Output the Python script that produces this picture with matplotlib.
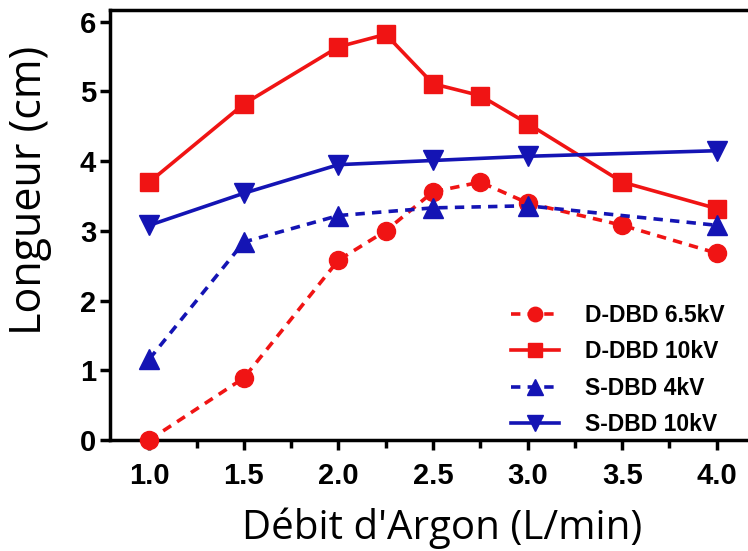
import matplotlib
matplotlib.use("Agg")
import matplotlib.pyplot as plt
from matplotlib.ticker import MultipleLocator

# Data
x_d65 = [1.0, 1.5, 2.0, 2.25, 2.5, 2.75, 3.0, 3.5, 4.0]
y_d65 = [0.0, 0.89, 2.58, 3.0, 3.56, 3.70, 3.40, 3.08, 2.68]
x_d10 = [1.0, 1.5, 2.0, 2.25, 2.5, 2.75, 3.0, 3.5, 4.0]
y_d10 = [3.70, 4.82, 5.64, 5.82, 5.11, 4.94, 4.54, 3.70, 3.32]
x_s4 = [1.0, 1.5, 2.0, 2.5, 3.0, 4.0]
y_s4 = [1.16, 2.84, 3.22, 3.33, 3.36, 3.08]
x_s10 = [1.0, 1.5, 2.0, 2.5, 3.0, 4.0]
y_s10 = [3.08, 3.54, 3.95, 4.01, 4.07, 4.15]
labels = ["D-DBD 6.5kV", "D-DBD 10kV", "S-DBD 4kV", "S-DBD 10kV"]
xticks = [1.0, 1.5, 2.0, 2.5, 3.0, 3.5, 4.0]
yticks = [0, 1, 2, 3, 4, 5, 6]

red = "#F01414"
blue = "#1414B4"

fig = plt.figure(figsize=(7.48, 5.51), dpi=100)
ax = fig.add_axes([0.147, 0.2015, 0.853, 0.7805])

lw = 2.6
dash = (0, (2.6, 2.0))
ax.plot(x_d65, y_d65, color=red, lw=lw, ls=dash, marker='o', ms=13, label=labels[0], clip_on=False, zorder=5)
ax.plot(x_d10, y_d10, color=red, lw=lw, ls='-', marker='s', ms=13, label=labels[1], clip_on=False, zorder=5)
ax.plot(x_s4, y_s4, color=blue, lw=lw, ls=dash, marker='^', ms=14, label=labels[2], clip_on=False, zorder=5)
ax.plot(x_s10, y_s10, color=blue, lw=lw, ls='-', marker='v', ms=14, label=labels[3], clip_on=False, zorder=5)

ax.set_xlim(0.792, 4.165)
ax.set_ylim(0, 6.17)
ax.set_xticks(xticks)
ax.set_xticklabels([f"{v:.1f}" for v in xticks])
ax.set_yticks(yticks)
ax.xaxis.set_minor_locator(MultipleLocator(0.25))

for s in ['left', 'bottom', 'top']:
    ax.spines[s].set_linewidth(2.5)
ax.spines['right'].set_visible(False)

ax.tick_params(axis='both', which='major', direction='out', length=7, width=2.5)
ax.tick_params(axis='x', which='minor', direction='out', length=5.5, width=2.5)
ax.tick_params(axis='x', which='major', pad=9)
ax.tick_params(axis='y', which='major', pad=3)
for lab in ax.get_xticklabels() + ax.get_yticklabels():
    lab.set_fontfamily('Liberation Sans')
    lab.set_fontweight('bold')
    lab.set_fontsize(21)

ax.set_xlabel("Débit d'Argon (L/min)", fontfamily='Open Sans', fontsize=29, va='center')
ax.xaxis.set_label_coords(0.52, -0.205)
ax.set_ylabel("Longueur (cm)", fontfamily='Open Sans', fontsize=31, va='center')
ax.yaxis.set_label_coords(-0.125, 0.58)

leg = ax.legend(loc='lower right', bbox_to_anchor=(0.988, -0.028), frameon=False,
                prop={'family': 'Liberation Sans', 'weight': 'bold', 'size': 16.5},
                handlelength=2.1, labelspacing=0.58, handletextpad=1.1, markerscale=0.8,
                borderaxespad=0.3)

fig.savefig("out.png", dpi=100)
